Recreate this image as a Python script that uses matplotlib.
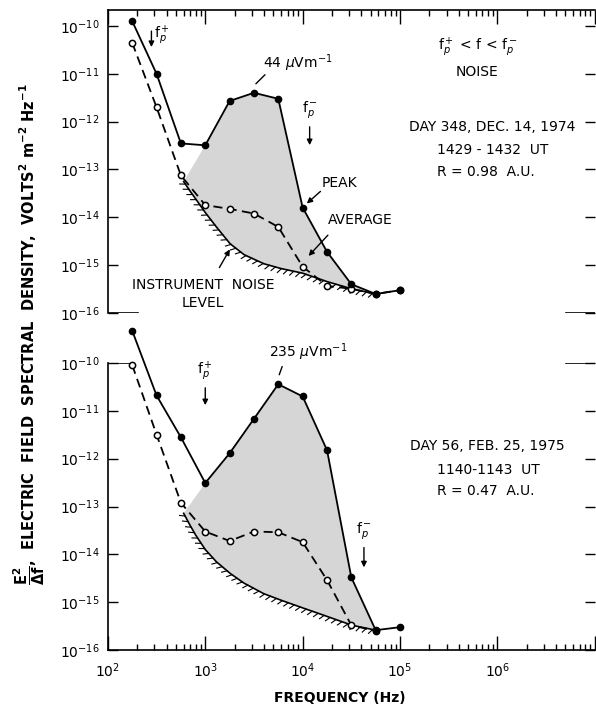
import numpy as np
import matplotlib.pyplot as plt
import matplotlib.patheffects as pe
from matplotlib.ticker import LogLocator, NullLocator, NullFormatter, LogFormatterSciNotation

plt.rcParams['font.family'] = ['DejaVu Sans']
plt.rcParams['mathtext.fontset'] = 'dejavusans'

# frequencies of the spectrum analyser channels (Hz)
freq = [178, 316, 562, 1000, 1780, 3160, 5620, 10000, 17800, 31600, 56200, 100000]

# day 348, Dec 14 1974
peak_348 = [1.25e-10, 1.0e-11, 3.5e-13, 3.2e-13, 2.7e-12, 4.0e-12, 3.0e-12,
            1.6e-14, 1.9e-15, 4.0e-16, 2.5e-16, 3.0e-16]
avg_348 = [4.4e-11, 2.0e-12, 7.5e-14, 1.8e-14, 1.5e-14, 1.2e-14, 6.3e-15,
           9.3e-16, 3.7e-16, 3.2e-16, 2.5e-16, 3.0e-16]

# day 56, Feb 25 1975
peak_56 = [4.7e-10, 2.1e-11, 2.8e-12, 3.1e-13, 1.3e-12, 6.8e-12, 3.6e-11,
           2.0e-11, 1.5e-12, 3.3e-15, 2.6e-16, 3.0e-16]
avg_56 = [9.0e-11, 3.2e-12, 1.2e-13, 3.0e-14, 1.9e-14, 3.0e-14, 2.9e-14,
          1.8e-14, 2.9e-15, 3.3e-16, 2.5e-16]

# instrument noise level
noise_f = [600, 700, 800, 1000, 1300, 1800, 2500, 4000, 6000, 10000, 18000, 32000, 56200]
noise_348 = [5.6e-14, 3.5e-14, 2.4e-14, 1.26e-14, 6.3e-15, 2.8e-15, 1.66e-15,
             1.07e-15, 8.5e-16, 6.8e-16, 4.5e-16, 3.2e-16, 2.5e-16]
noise_56 = [7.2e-14, 4.0e-14, 2.5e-14, 1.26e-14, 7.0e-15, 4.0e-15, 2.5e-15,
            1.5e-15, 1.1e-15, 7.6e-16, 5.0e-16, 3.3e-16, 2.6e-16]

fig = plt.figure(figsize=(5.96, 7.09), dpi=100)
ax1 = fig.add_axes([0.181, 0.5585, 0.817, 0.4275])
ax2 = fig.add_axes([0.181, 0.0832, 0.817, 0.4048])

FS = 10


def panel(ax, peak, avg, noise, ytop):
    ax.set_xscale('log')
    ax.set_yscale('log')
    ax.set_xlim(1e2, 1e7)
    ax.set_ylim(1e-16, ytop)

    # shaded region between instrument noise and peak spectrum
    sx = [noise_f[0]] + freq[3:11] + noise_f[::-1]
    sy = [noise[0]] + peak[3:11] + noise[::-1]
    ax.fill(sx, sy, color='#d6d6d6', lw=0, zorder=1)

    ax.plot(noise_f, noise, color='black', lw=1.2, zorder=2,
            path_effects=[pe.withTickedStroke(angle=-125, spacing=4.5, length=0.9, linewidth=0.8)])
    ax.plot(freq[:len(avg)], avg, color='black', lw=1.3, ls=(0, (5, 3)),
            marker='o', ms=4.5, mfc='white', mec='black', mew=1.1,
            zorder=3, clip_on=False)
    ax.plot(freq, peak, color='black', lw=1.3, marker='o', ms=4.5,
            mfc='black', mec='black', zorder=4, clip_on=False)

    ax.set_yticks([1e-16, 1e-15, 1e-14, 1e-13, 1e-12, 1e-11, 1e-10])
    ax.yaxis.set_minor_locator(NullLocator())
    ax.yaxis.set_major_formatter(LogFormatterSciNotation())
    ax.set_xticks([1e2, 1e3, 1e4, 1e5, 1e6, 1e7])
    ax.xaxis.set_minor_locator(LogLocator(base=10, subs=range(2, 10), numticks=20))
    ax.xaxis.set_minor_formatter(NullFormatter())
    ax.tick_params(axis='y', which='major', direction='in', length=7, width=1,
                   labelsize=FS, left=True, right=True, pad=6)
    ax.tick_params(axis='x', which='major', direction='in', length=10, width=1, labelsize=FS)
    ax.tick_params(axis='x', which='minor', direction='in', length=4.5, width=1)
    ax.spines['right'].set_visible(False)
    for s in ax.spines.values():
        s.set_linewidth(1.2)


panel(ax1, peak_348, avg_348, noise_348, 10 ** -9.666)
panel(ax2, peak_56, avg_56, noise_56, 1e-10)

# top panel: ticks on top, partial bottom frame
ax1.tick_params(axis='x', which='both', top=True, bottom=False, labelbottom=False)
ax1.spines['bottom'].set_visible(False)
ax1.axhline(1e-16, xmin=0, xmax=0.062, color='black', lw=1.2)
ax1.axhline(1e-16, xmin=0.94, xmax=1, color='black', lw=1.2)

# bottom panel: ticks on bottom, partial top frame
ax2.tick_params(axis='x', which='both', top=False, bottom=True, labelbottom=True, pad=8)
ax2.spines['top'].set_visible(False)
ax2.axhline(1e-10, xmin=0, xmax=0.051, color='black', lw=1.2)
ax2.axhline(1e-10, xmin=0.94, xmax=1, color='black', lw=1.2)
ax2.set_xticklabels([r'$\mathdefault{10^{2}}$', r'$\mathdefault{10^{3}}$', r'$\mathdefault{10^{4}}$',
                     r'$\mathdefault{10^{5}}$', r'$\mathdefault{10^{6}}$', ''])

arrow = dict(arrowstyle='-|>', color='black', lw=1.0, mutation_scale=8)
line = dict(arrowstyle='-', color='black', lw=1.0)

# ---- top panel annotations
ax1.annotate('', xy=(280, 10 ** -10.5), xytext=(280, 10 ** -10.05), arrowprops=arrow)
ax1.text(300, 10 ** -10.2, r'f$_p^+$', fontsize=FS, va='center', ha='left')
ax1.annotate('', xy=(11800, 10 ** -12.55), xytext=(11800, 10 ** -12.05), arrowprops=arrow)
ax1.text(11800, 10 ** -11.75, r'f$_p^-$', fontsize=FS, va='center', ha='center')
ax1.text(8900, 10 ** -10.77, r'44 $\mu$Vm$^{-1}$', fontsize=FS, ha='center', va='center')
ax1.annotate('', xy=(3160, 10 ** -11.25), xytext=(4300, 10 ** -10.98), arrowprops=line)
ax1.text(24000, 10 ** -13.28, 'PEAK', fontsize=FS, ha='center', va='center')
ax1.annotate('', xy=(10500, 10 ** -13.75), xytext=(16000, 10 ** -13.42), arrowprops=arrow)
ax1.text(39000, 10 ** -14.05, 'AVERAGE', fontsize=FS, ha='center', va='center')
ax1.annotate('', xy=(11000, 10 ** -14.85), xytext=(19000, 10 ** -14.33), arrowprops=arrow)
ax1.text(950, 10 ** -15.6, 'INSTRUMENT  NOISE\nLEVEL', fontsize=FS, ha='center',
         va='center', linespacing=1.4)
ax1.annotate('', xy=(1850, 10 ** -14.62), xytext=(1350, 10 ** -15.1), arrowprops=arrow)

ax1.text(6.2e5, 10 ** -10.44, r'f$_p^+$ < f < f$_p^-$', fontsize=FS, ha='center', va='center')
ax1.text(6.2e5, 10 ** -10.96, 'NOISE', fontsize=FS, ha='center', va='center')
ax1.text(8.9e5, 10 ** -12.11, 'DAY 348, DEC. 14, 1974', fontsize=FS, ha='center', va='center')
ax1.text(2.4e5, 10 ** -12.59, '1429 - 1432  UT', fontsize=FS, ha='left', va='center')
ax1.text(2.4e5, 10 ** -13.05, 'R = 0.98  A.U.', fontsize=FS, ha='left', va='center')

# ---- bottom panel annotations
ax2.annotate('', xy=(1000, 10 ** -10.94), xytext=(1000, 10 ** -10.46), arrowprops=arrow)
ax2.text(1000, 10 ** -10.17, r'f$_p^+$', fontsize=FS, ha='center', va='center')
ax2.annotate('', xy=(42600, 10 ** -14.33), xytext=(42600, 10 ** -13.8), arrowprops=arrow)
ax2.text(42600, 10 ** -13.51, r'f$_p^-$', fontsize=FS, ha='center', va='center')
ax2.text(11500, 10 ** -9.77, r'235 $\mu$Vm$^{-1}$', fontsize=FS, ha='center', va='center',
         clip_on=False)
ax2.annotate('', xy=(5620, 10 ** -10.3), xytext=(6300, 10 ** -10.02), arrowprops=line)
ax2.text(7.9e5, 10 ** -11.74, 'DAY 56, FEB. 25, 1975', fontsize=FS, ha='center', va='center')
ax2.text(2.4e5, 10 ** -12.24, '1140-1143  UT', fontsize=FS, ha='left', va='center')
ax2.text(2.4e5, 10 ** -12.68, 'R = 0.47  A.U.', fontsize=FS, ha='left', va='center')

fig.text(0.57, 0.016, 'FREQUENCY (Hz)', fontsize=FS, fontweight='bold', ha='center', va='center')
fig.text(0.05, 0.529,
         r'$\mathbf{\dfrac{E^2}{\Delta f}}$,  ELECTRIC  FIELD  SPECTRAL  DENSITY,  '
         r'VOLTS$^{\mathbf{2}}$ m$^{\mathbf{-2}}$ Hz$^{\mathbf{-1}}$',
         fontsize=10.5, fontweight='bold', rotation=90, ha='center', va='center')

fig.savefig('out.png', dpi=100)
